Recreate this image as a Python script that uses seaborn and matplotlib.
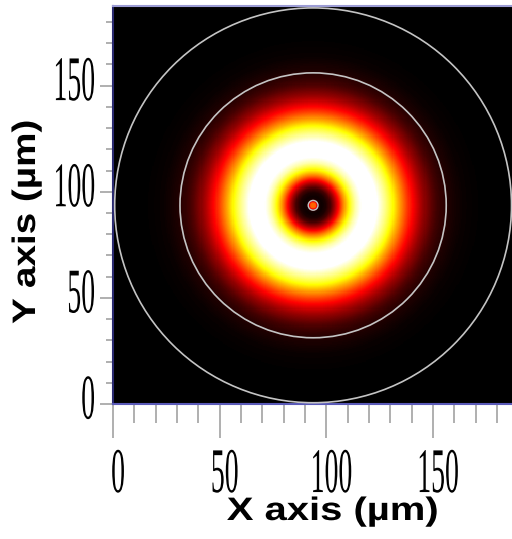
import numpy as np
import matplotlib
matplotlib.use("Agg")
import matplotlib.pyplot as plt
import seaborn as sns
from matplotlib.patches import Circle
from matplotlib.path import Path
from matplotlib.colors import LinearSegmentedColormap
from matplotlib.patheffects import AbstractPathEffect
from matplotlib.transforms import Affine2D, ScaledTranslation

# ---------------- data ----------------
# radial intensity profile of the doughnut beam (relative units)
profile_r_um = [0, 1, 1.5, 2, 2.5, 3, 4, 6, 8, 9, 10, 12, 14, 16, 18, 20, 22,
                24, 26, 28, 30, 32, 34, 36, 38, 40, 42, 44, 46, 48, 50, 52, 54,
                56, 58, 60, 64, 70, 80, 200]
profile_intensity = [0.50, 0.48, 0.35, 0.15, 0.05, 0.03, 0.02, 0.04, 0.10,
                     0.16, 0.22, 0.36, 0.52, 0.66, 0.78, 0.88, 0.94,
                     0.99, 1.00, 0.99, 0.96, 0.90, 0.84, 0.77, 0.69, 0.60,
                     0.52, 0.44, 0.37, 0.31, 0.25, 0.20, 0.16, 0.12, 0.09,
                     0.07, 0.04, 0.014, 0.0, 0.0]
beam_center_um = [93.8, 93.6]
ring_radii_um = [2.3, 62.4, 93.0]
major_ticks_um = [0, 50, 100, 150]
minor_ticks_um = [10, 20, 30, 40, 60, 70, 80, 90, 110, 120, 130, 140, 160, 170, 180]
tick_labels = ["0", "50", "100", "150"]
x_label = "X axis (µm)"
y_label = "Y axis (µm)"
extent_um = 187.5
cell_um = 0.5

# ---------------- field ----------------
n = int(round(extent_um / cell_um))
centers = (np.arange(n) + 0.5) * cell_um
X, Y = np.meshgrid(centers, centers)
R = np.hypot(X - beam_center_um[0], Y - beam_center_um[1])
field = np.interp(R, profile_r_um, profile_intensity)

hot_black = LinearSegmentedColormap("hot_black", {
    "red":   [(0, 0, 0), (0.365, 1, 1), (1, 1, 1)],
    "green": [(0, 0, 0), (0.365, 0, 0), (0.746, 1, 1), (1, 1, 1)],
    "blue":  [(0, 0, 0), (0.746, 0, 0), (1, 1, 1)],
})


class Stretch(AbstractPathEffect):
    """Scale glyph outlines (sx about the text middle, sy about y0)."""
    def __init__(self, sx=1.0, sy=1.0, y0=0.0):
        super().__init__()
        self.sx = sx
        self.sy = sy
        self.y0 = y0

    def draw_path(self, renderer, gc, tpath, affine, rgbFace=None):
        v = tpath.vertices
        if tpath.codes is not None:
            v = v[tpath.codes != Path.CLOSEPOLY]
        x0 = (v[:, 0].min() + v[:, 0].max()) / 2 if len(v) else 0.0
        t = (Affine2D().translate(-x0, -self.y0).scale(self.sx, self.sy)
             .translate(x0, self.y0) + affine)
        renderer.draw_path(gc, tpath, t, rgbFace)


fig = plt.figure(figsize=(5.12, 5.39), dpi=100)
fig.patch.set_facecolor("white")
ax = fig.add_axes([113 / 512, 135 / 539, 400 / 512, 398 / 539])

sns.heatmap(field, cmap=hot_black, vmin=0, vmax=0.96, cbar=False,
            xticklabels=False, yticklabels=False, ax=ax, rasterized=True)
ax.set_xlim(0, n)
ax.set_ylim(0, n)

for rr in ring_radii_um:
    ax.add_patch(Circle((beam_center_um[0] / cell_um, beam_center_um[1] / cell_um),
                        rr / cell_um, fill=False,
                        ec="#c4c4c4", lw=1.0 if rr < 10 else 1.2, zorder=3))

for side in ["left", "bottom", "top"]:
    ax.spines[side].set_visible(True)
    ax.spines[side].set_linewidth(1.5)
ax.spines["top"].set_color("#9c9cd4")
ax.spines["bottom"].set_color("#5a5ab8")
ax.spines["left"].set_color("#2a2a70")
ax.spines["right"].set_visible(False)

ax.set_xticks(np.array(major_ticks_um) / cell_um)
ax.set_xticklabels(tick_labels)
ax.set_xticks(np.array(minor_ticks_um) / cell_um, minor=True)
ax.set_yticks(np.array(major_ticks_um) / cell_um)
ax.set_yticklabels(tick_labels)
ax.set_yticks(np.array(minor_ticks_um) / cell_um, minor=True)

tick_col = "#9a9a9a"
ax.tick_params(axis="x", which="major", direction="out", length=24.5, width=1.1,
               color=tick_col, pad=38.9, labelsize=20, labelcolor="black",
               labelfontfamily="Liberation Serif", bottom=True)
ax.tick_params(axis="x", which="minor", direction="out", length=13.7, width=1.1,
               color=tick_col, bottom=True)
ax.tick_params(axis="y", which="major", direction="out", length=9.4, width=1.1,
               color=tick_col, pad=3.6, labelsize=20, labelcolor="black",
               labelfontfamily="Liberation Serif", left=True)
ax.tick_params(axis="y", which="minor", direction="out", length=5.0, width=1.1,
               color=tick_col, left=True)

for lab in ax.get_xticklabels():
    lab.set_verticalalignment("baseline")
    lab.set_path_effects([Stretch(1.0, 2.29, 0.0)])
    lab.set_transform(lab.get_transform() + ScaledTranslation(5 / 100, 0, fig.dpi_scale_trans))
for lab in ax.get_yticklabels():
    lab.set_path_effects([Stretch(1.0, 2.29, 14.0)])

ax.set_xlabel(x_label, fontsize=23.4, fontweight="bold", family="Liberation Sans")
ax.xaxis.set_label_coords((332.5 - 113) / 400, (404 - 497) / 398)
ax.xaxis.label.set_path_effects([Stretch(1.23, 1.0, 0.0)])
ax.set_ylabel(y_label, fontsize=23.4, fontweight="bold", family="Liberation Sans")
ax.yaxis.set_label_coords((42 - 113) / 400, (404 - 222) / 398)
ax.yaxis.label.set_path_effects([Stretch(1.19, 1.0, 0.0)])

fig.savefig("out.png", dpi=100)
